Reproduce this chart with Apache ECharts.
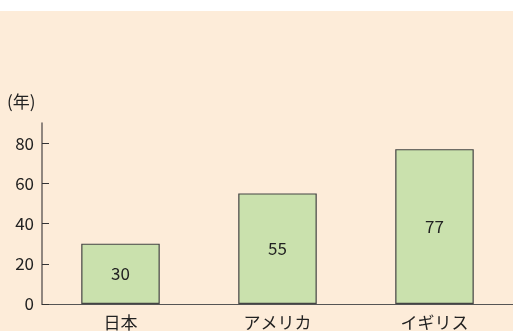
<!DOCTYPE html>
<html>
<head>
<meta charset="utf-8">
<script src="https://cdn.jsdelivr.net/npm/echarts@6/dist/echarts.min.js"></script>
<style>
html,body{margin:0;padding:0;background:#ffffff;}
#chart{position:absolute;left:0;top:11px;width:513px;height:320px;}
</style>
</head>
<body>
<div id="chart"></div>
<script>
var categories = ['日本', 'アメリカ', 'イギリス'];
var values = [30, 55, 77];
var yTicks = [0, 20, 40, 60, 80];
var unitLabel = '(年)';

var font = '"Noto Sans CJK JP", "Noto Sans", sans-serif';
var chart = echarts.init(document.getElementById('chart'));
chart.setOption({
  backgroundColor: '#fdecd9',
  animation: false,
  grid: { left: 42, right: 0, top: 112, bottom: 26.5 },
  graphic: [{
    type: 'text', left: 7, top: 82,
    style: { text: unitLabel, fill: '#222', font: '17px ' + font, letterSpacing: 3 }
  }],
  xAxis: {
    type: 'category',
    data: categories,
    axisLine: { lineStyle: { color: '#555', width: 1.2 } },
    axisTick: { inside: true, length: 6, lineStyle: { color: '#555' } },
    axisLabel: { color: '#222', fontSize: 17, fontFamily: font, margin: 10 }
  },
  yAxis: {
    type: 'value',
    min: 0, max: 90, interval: 10,
    splitLine: { show: false },
    axisLine: { show: true, lineStyle: { color: '#6b6560', width: 1.5 } },
    axisTick: { show: true, inside: true, length: 7, customValues: yTicks, lineStyle: { color: '#333' } },
    axisLabel: { color: '#222', fontSize: 17, fontFamily: font, margin: 8, customValues: yTicks }
  },
  series: [{
    type: 'bar',
    data: values,
    barWidth: '50%',
    itemStyle: { color: '#cae1ad', borderColor: '#444', borderWidth: 1.2 },
    label: { show: true, position: 'inside', color: '#222', fontSize: 17, fontFamily: font }
  }]
});
</script>
</body>
</html>
